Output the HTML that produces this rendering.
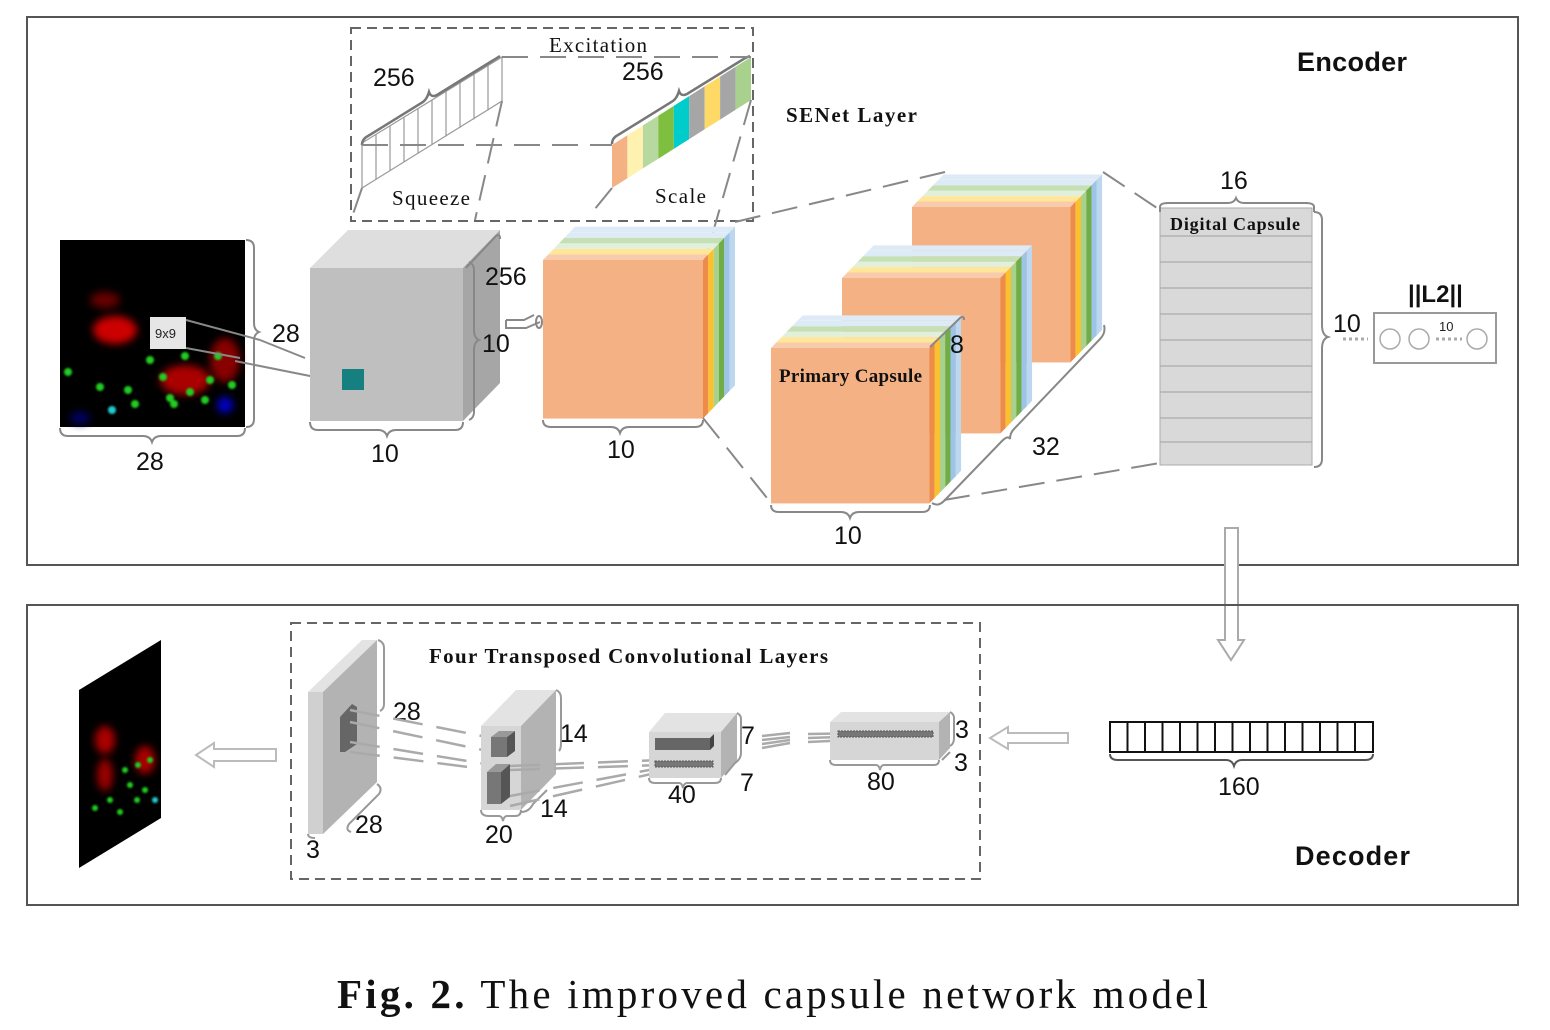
<!DOCTYPE html>
<html><head><meta charset="utf-8"><style>
html,body{margin:0;padding:0;background:#fff}
svg{display:block}
.n{font-family:"Liberation Sans",sans-serif;font-size:25px;fill:#111}
.s{font-family:"Liberation Serif",serif;fill:#111}
</style></head><body>
<svg width="1550" height="1030" viewBox="0 0 1550 1030" xmlns="http://www.w3.org/2000/svg">
<defs>
<g id="cube">
<rect x="0" y="0" width="160" height="157" fill="#f4b183"/>
<polygon points="0,0 160,0 165.3,-5.5 5.3,-5.5" fill="#f8cbad"/>
<polygon points="5.3,-5.5 165.3,-5.5 170.7,-11 10.7,-11" fill="#ffe699"/>
<polygon points="10.7,-11 170.7,-11 176,-16.5 16,-16.5" fill="#e2efda"/>
<polygon points="16,-16.5 176,-16.5 181.3,-22 21.3,-22" fill="#c5e0b4"/>
<polygon points="21.3,-22 181.3,-22 186.7,-27.5 26.7,-27.5" fill="#ddebf7"/>
<polygon points="26.7,-27.5 186.7,-27.5 192,-33 32,-33" fill="#deebf7"/>
<polygon points="160,0 165.3,-5.5 165.3,151.5 160,157" fill="#ed8b4a"/>
<polygon points="165.3,-5.5 170.7,-11 170.7,146 165.3,151.5" fill="#fbc02d"/>
<polygon points="170.7,-11 176,-16.5 176,140.5 170.7,146" fill="#a9d18e"/>
<polygon points="176,-16.5 181.3,-22 181.3,135 176,140.5" fill="#70ad47"/>
<polygon points="181.3,-22 186.7,-27.5 186.7,129.5 181.3,135" fill="#9dc3e6"/>
<polygon points="186.7,-27.5 192,-33 192,124 186.7,129.5" fill="#bdd7ee"/>
</g>
<filter id="bl"><feGaussianBlur stdDeviation="4"/></filter>
<filter id="bl2"><feGaussianBlur stdDeviation="1"/></filter>
</defs>

<!-- encoder box -->
<rect x="27" y="17" width="1491" height="548" fill="none" stroke="#555" stroke-width="2"/>
<text x="1297" y="71" font-family="Liberation Sans,sans-serif" font-weight="bold" font-size="27" fill="#111" textLength="110">Encoder</text>

<!-- SENet -->
<rect x="351" y="28" width="402" height="193" fill="none" stroke="#666" stroke-width="2" stroke-dasharray="10,6"/>
<text x="549" y="52" class="s" font-size="21" textLength="98">Excitation</text>
<text x="786" y="122" class="s" font-size="21" font-weight="bold" textLength="131">SENet Layer</text>
<text x="392" y="205" class="s" font-size="21" textLength="78">Squeeze</text>
<text x="655" y="203" class="s" font-size="21" textLength="51">Scale</text>
<g stroke="#999" stroke-width="1.2" fill="none">
<polygon points="362,143 502,57 502,101 362,188"/>
<line x1="376" y1="134.4" x2="376" y2="179.4"/><line x1="390" y1="125.8" x2="390" y2="170.8"/><line x1="404" y1="117.2" x2="404" y2="162.2"/><line x1="418" y1="108.6" x2="418" y2="153.6"/><line x1="432" y1="100" x2="432" y2="145"/><line x1="446" y1="91.4" x2="446" y2="136.4"/><line x1="460" y1="82.8" x2="460" y2="127.8"/><line x1="474" y1="74.2" x2="474" y2="119.2"/><line x1="488" y1="65.6" x2="488" y2="110.6"/>
</g>
<path d="M362,145 q0,-6 6,-9 l55,-34 q4,-3 6,-10 q2,6 8,3 l55,-34 q5,-3 8,-5" stroke="#777" stroke-width="2.5" fill="none"/>
<g>
<polygon points="612,145 627.4,135.2 627.4,178.2 612,188" fill="#f4b183"/>
<polygon points="627.4,135.2 642.9,125.4 642.9,168.4 627.4,178.2" fill="#fff2b0"/>
<polygon points="642.9,125.4 658.3,115.7 658.3,158.7 642.9,168.4" fill="#b7d9a0"/>
<polygon points="658.3,115.7 673.8,105.9 673.8,148.9 658.3,158.7" fill="#7fbf3f"/>
<polygon points="673.8,105.9 689.2,96.1 689.2,139.1 673.8,148.9" fill="#00cccc"/>
<polygon points="689.2,96.1 704.7,86.3 704.7,129.3 689.2,139.1" fill="#a6a6a6"/>
<polygon points="704.7,86.3 720.1,76.6 720.1,119.6 704.7,129.3" fill="#ffd966"/>
<polygon points="720.1,76.6 735.6,66.8 735.6,109.8 720.1,119.6" fill="#a6a6a6"/>
<polygon points="735.6,66.8 751,57 751,100 735.6,109.8" fill="#a9d18e"/>
</g>
<path d="M612,144 q0,-6 6,-9 l55,-34 q4,-3 6,-10 q2,6 8,3 l55,-34 q5,-3 8,-4" stroke="#777" stroke-width="2.5" fill="none"/>
<text x="373" y="86" class="n">256</text>
<text x="622" y="80" class="n">256</text>
<g stroke="#888" stroke-width="2" stroke-dasharray="26,12" fill="none">
<line x1="502" y1="57" x2="751" y2="57"/>
<line x1="362" y1="145" x2="612" y2="145"/>
<line x1="502" y1="101" x2="475" y2="220"/>
<line x1="362" y1="188" x2="351" y2="220"/>
<line x1="612" y1="188" x2="590" y2="215"/>
<line x1="751" y1="100" x2="705" y2="260"/>
</g>

<!-- input image -->
<rect x="60" y="240" width="185" height="187" fill="#000"/>
<g filter="url(#bl)">
<ellipse cx="115" cy="330" rx="22" ry="14" fill="#c00"/>
<ellipse cx="105" cy="300" rx="15" ry="8" fill="#600"/>
<ellipse cx="185" cy="380" rx="25" ry="15" fill="#a00"/>
<ellipse cx="225" cy="360" rx="15" ry="22" fill="#800"/>
<ellipse cx="225" cy="405" rx="8" ry="8" fill="#00c"/>
<ellipse cx="80" cy="418" rx="10" ry="6" fill="#006"/>
</g>
<g fill="#2c2" filter="url(#bl2)">
<circle cx="68" cy="372" r="4"/><circle cx="100" cy="387" r="4"/><circle cx="128" cy="390" r="4"/><circle cx="163" cy="377" r="4"/><circle cx="185" cy="356" r="4"/><circle cx="205" cy="400" r="4"/><circle cx="170" cy="398" r="4"/><circle cx="190" cy="392" r="4"/><circle cx="135" cy="404" r="4"/><circle cx="232" cy="385" r="4"/><circle cx="218" cy="356" r="4"/><circle cx="174" cy="404" r="4"/><circle cx="210" cy="380" r="4"/><circle cx="112" cy="410" r="4" fill="#2cc"/><circle cx="150" cy="360" r="4"/>
</g>
<rect x="150" y="317" width="36" height="32" fill="#e6e6e6"/>
<text x="155" y="338" font-family="Liberation Sans,sans-serif" font-size="13" fill="#222">9x9</text>
<g stroke="#888" stroke-width="2" fill="none">
<path d="M60,428 q0,8 8,8 h75 q7,0 9,6 q2,-6 9,-6 h76 q8,0 8,-8"/>
<path d="M246,240 q8,0 8,8 v75 q0,7 5,9 q-5,2 -5,9 v78 q0,8 -8,8"/>
<line x1="186" y1="320" x2="260" y2="340"/>
<line x1="186" y1="348" x2="240" y2="358"/>
<line x1="235" y1="361" x2="340" y2="382"/>
<line x1="260" y1="340" x2="305" y2="358"/>
</g>
<text x="136" y="470" class="n">28</text>
<text x="272" y="342" class="n">28</text>

<!-- gray conv cube -->
<polygon points="310,268 348,230 500,230 463,268" fill="#dedede"/>
<rect x="310" y="268" width="153" height="153" fill="#bfbfbf"/>
<polygon points="463,268 500,230 500,383 463,421" fill="#a6a6a6"/>
<rect x="342" y="369" width="22" height="21" fill="#168080"/>
<g stroke="#888" stroke-width="2" fill="none">
<path d="M310,422 q0,8 8,8 h60 q7,0 9,6 q2,-6 9,-6 h59 q8,0 8,-8"/>
<path d="M466,268 l30,-32 q4,-3 4,3 M466,268 q4,-6 0,0"/>
<path d="M469,420 q5,-2 5,-8 v-62 q0,-8 5,-10 q-5,-2 -5,-10 v-60 q0,-6 -5,-8"/>
<path d="M506,320 h18 l10,-5 M506,320 v8 h20 l14,-6"/>
<ellipse cx="539" cy="322" rx="3" ry="6"/>
</g>
<text x="371" y="462" class="n">10</text>
<text x="485" y="285" class="n">256</text>
<text x="482" y="352" class="n">10</text>

<!-- main colored cube -->
<use href="#cube" transform="translate(543,260) scale(1,1.01)"/>
<path d="M543,420 q0,7 8,7 h60 q7,0 9,6 q2,-6 9,-6 h66 q8,0 8,-7" stroke="#888" stroke-width="2" fill="none"/>
<text x="607" y="458" class="n">10</text>

<!-- primary capsules -->
<use href="#cube" transform="translate(912,207) scale(0.99,0.99)"/>
<use href="#cube" transform="translate(842,278) scale(0.99,0.99)"/>
<use href="#cube" transform="translate(771,348) scale(0.99,0.99)"/>
<text x="779" y="382" class="s" font-size="19" font-weight="bold" textLength="143">Primary Capsule</text>
<text x="950" y="353" class="n">8</text>
<text x="1032" y="455" class="n">32</text>
<text x="834" y="544" class="n">10</text>
<g stroke="#888" stroke-width="2" fill="none">
<path d="M771,505 q0,7 8,7 h62 q7,0 9,6 q2,-6 9,-6 h63 q8,0 8,-7"/>
<path d="M932,503 q6,4 12,-2 l58,-60 q6,-6 8,-2 q0,-6 4,-10 l86,-90 q6,-6 4,-14"/>
<path d="M930,347 l30,-29 q4,-3 4,2"/>
</g>
<g stroke="#888" stroke-width="2" stroke-dasharray="26,12" fill="none">
<line x1="703" y1="418" x2="771" y2="503"/>
<line x1="735" y1="222" x2="945" y2="172"/>
<line x1="1103" y1="172" x2="1160" y2="210"/>
<line x1="944" y1="500" x2="1160" y2="463"/>
</g>

<!-- digital capsule -->
<rect x="1160" y="208" width="152" height="257" fill="#d9d9d9" stroke="#aaa"/>
<g stroke="#aaa" stroke-width="1.2">
<line x1="1160" y1="236" x2="1312" y2="236"/><line x1="1160" y1="262" x2="1312" y2="262"/><line x1="1160" y1="288" x2="1312" y2="288"/><line x1="1160" y1="314" x2="1312" y2="314"/><line x1="1160" y1="340" x2="1312" y2="340"/><line x1="1160" y1="366" x2="1312" y2="366"/><line x1="1160" y1="392" x2="1312" y2="392"/><line x1="1160" y1="418" x2="1312" y2="418"/><line x1="1160" y1="442" x2="1312" y2="442"/>
</g>
<text x="1170" y="230" class="s" font-size="18" font-weight="bold" textLength="130">Digital Capsule</text>
<g stroke="#888" stroke-width="2" fill="none">
<path d="M1160,212 v-5 q0,-4 8,-4 h60 q6,0 8,-5 q2,5 8,5 h62 q8,0 8,4 v5"/>
<path d="M1314,212 q8,0 8,8 v105 q0,10 6,12 q-6,2 -6,12 v110 q0,8 -8,8"/>
</g>
<text x="1220" y="189" class="n">16</text>
<text x="1333" y="332" class="n">10</text>
<line x1="1343" y1="339" x2="1368" y2="339" stroke="#aaa" stroke-width="3" stroke-dasharray="3,3"/>
<rect x="1374" y="313" width="122" height="50" fill="#fff" stroke="#999" stroke-width="2"/>
<g fill="none" stroke="#aaa" stroke-width="1.5"><circle cx="1390" cy="339" r="10"/><circle cx="1419" cy="339" r="10"/><circle cx="1477" cy="339" r="10"/></g>
<line x1="1436" y1="339" x2="1462" y2="339" stroke="#aaa" stroke-width="3" stroke-dasharray="3,3"/>
<text x="1439" y="331" font-family="Liberation Sans,sans-serif" font-size="13" fill="#222">10</text>
<text x="1408" y="302" font-family="Liberation Sans,sans-serif" font-weight="bold" font-size="24" fill="#111">||L2||</text>

<!-- down arrow -->
<polygon points="1225,528 1238,528 1238,640 1244,640 1231,660 1218,640 1225,640" fill="#fff" stroke="#aaa" stroke-width="2"/>

<!-- decoder box -->
<rect x="27" y="605" width="1491" height="300" fill="none" stroke="#555" stroke-width="2"/>
<text x="1295" y="865" font-family="Liberation Sans,sans-serif" font-weight="bold" font-size="27" fill="#111" textLength="115">Decoder</text>
<rect x="291" y="623" width="689" height="256" fill="none" stroke="#666" stroke-width="2" stroke-dasharray="10,6"/>
<text x="429" y="663" class="s" font-size="21" font-weight="bold" textLength="399">Four Transposed Convolutional Layers</text>

<!-- output image -->
<polygon points="79,690 161,640 161,818 79,868" fill="#000"/>
<g filter="url(#bl)"><ellipse cx="105" cy="740" rx="10" ry="14" fill="#a00"/><ellipse cx="145" cy="760" rx="10" ry="14" fill="#a00"/><ellipse cx="105" cy="775" rx="8" ry="16" fill="#900"/></g>
<g fill="#2c2" filter="url(#bl2)"><circle cx="125" cy="770" r="3"/><circle cx="138" cy="765" r="3"/><circle cx="150" cy="760" r="3"/><circle cx="130" cy="785" r="3"/><circle cx="145" cy="790" r="3"/><circle cx="110" cy="800" r="3"/><circle cx="120" cy="812" r="3"/><circle cx="95" cy="808" r="3"/><circle cx="155" cy="800" r="3" fill="#2cc"/><circle cx="137" cy="800" r="3"/></g>
<polygon points="276,749 214,749 214,743 196,755 214,767 214,761 276,761" fill="#fff" stroke="#bbb" stroke-width="2"/>

<!-- layer 1 -->
<polygon points="308,692 362,640 377,640 323,692" fill="#e3e3e3"/>
<rect x="308" y="692" width="15" height="142" fill="#d0d0d0"/>
<polygon points="323,692 377,640 377,782 323,834" fill="#b3b3b3"/>
<polygon points="340,717 352,704 357,707 357,744 345,752 340,752" fill="#666"/>
<g stroke="#999" stroke-width="2" fill="none">
<path d="M378,640 q6,2 6,8 v56 q0,5 -4,7"/>
<path d="M377,784 q6,4 2,10 l-30,30 q-4,6 2,8"/>
<path d="M308,834 q0,4 7,4"/>
</g>
<text x="393" y="720" class="n">28</text>
<text x="355" y="833" class="n">28</text>
<text x="306" y="858" class="n">3</text>
<g stroke="#aaa" stroke-width="2.5" fill="none" stroke-dasharray="30,14">
<line x1="350" y1="710" x2="492" y2="738"/>
<line x1="350" y1="722" x2="492" y2="752"/>
<line x1="350" y1="742" x2="492" y2="765"/>
<line x1="350" y1="752" x2="492" y2="770"/>
</g>

<!-- layer 2 -->
<polygon points="481,726 516,690 556,690 521,726" fill="#e3e3e3"/>
<rect x="481" y="726" width="40" height="84" fill="#d6d6d6"/>
<polygon points="521,726 556,690 556,774 521,810" fill="#b3b3b3"/>
<rect x="491" y="737" width="16" height="20" fill="#777"/><polygon points="507,737 515,731 515,751 507,757" fill="#555"/><polygon points="491,737 499,731 515,731 507,737" fill="#999"/>
<rect x="487" y="772" width="14" height="32" fill="#777"/><polygon points="501,772 510,764 510,797 501,804" fill="#555"/><polygon points="487,772 496,764 510,764 501,772" fill="#999"/>
<g stroke="#999" stroke-width="2" fill="none">
<path d="M481,810 q0,6 8,6 h10 q3,0 4,5 q1,-5 4,-5 h8 q6,0 6,-6"/>
<path d="M556,690 q5,2 5,8 v45 q0,6 -2,8"/>
<path d="M521,812 q8,0 12,-8 l14,-14"/>
</g>
<text x="560" y="742" class="n">14</text>
<text x="540" y="817" class="n">14</text>
<text x="485" y="843" class="n">20</text>
<g stroke="#aaa" stroke-width="2.5" fill="none" stroke-dasharray="30,14">
<line x1="510" y1="766" x2="660" y2="760"/>
<line x1="510" y1="770" x2="660" y2="765"/>
<line x1="510" y1="796" x2="660" y2="768"/>
<line x1="510" y1="806" x2="660" y2="772"/>
</g>

<!-- layer 3 -->
<polygon points="649,732 665,713 737,713 721,732" fill="#e3e3e3"/>
<rect x="649" y="732" width="72" height="46" fill="#d6d6d6"/>
<polygon points="721,732 737,713 737,760 721,778" fill="#b3b3b3"/>
<rect x="655" y="738" width="55" height="12" fill="#666"/><polygon points="710,738 714,734 714,746 710,750" fill="#444"/>
<rect x="655" y="761" width="58" height="6" fill="#777" stroke="#555" stroke-dasharray="2,1"/>
<g stroke="#999" stroke-width="2" fill="none">
<path d="M649,778 q0,5 6,5 h24 q3,0 4,5 q1,-5 4,-5 h28 q6,0 6,-5"/>
<path d="M737,713 q4,2 4,6 v34 q0,6 -6,10 l-10,12"/>
</g>
<text x="741" y="744" class="n">7</text>
<text x="740" y="791" class="n">7</text>
<text x="668" y="803" class="n">40</text>
<g stroke="#aaa" stroke-width="2.5" fill="none">
<line x1="762" y1="736" x2="790" y2="733"/><line x1="762" y1="740" x2="790" y2="737"/><line x1="762" y1="744" x2="790" y2="740"/><line x1="762" y1="748" x2="790" y2="743"/>
<line x1="808" y1="734" x2="935" y2="732"/><line x1="808" y1="738" x2="935" y2="734"/><line x1="808" y1="742" x2="935" y2="736"/>
</g>

<!-- layer 4 -->
<polygon points="830,722 841,712 950,712 939,722" fill="#e3e3e3"/>
<rect x="830" y="722" width="109" height="38" fill="#d6d6d6"/>
<polygon points="939,722 950,712 950,748 939,760" fill="#b3b3b3"/>
<rect x="838" y="731" width="95" height="6" fill="#777" stroke="#555" stroke-dasharray="2,1"/>
<g stroke="#999" stroke-width="2" fill="none">
<path d="M830,760 q0,5 6,5 h40 q3,0 4,5 q1,-5 4,-5 h50 q5,0 5,-5"/>
<path d="M950,712 q4,2 4,6 v20 q0,6 -4,8 M942,760 l8,-8"/>
</g>
<text x="955" y="738" class="n">3</text>
<text x="954" y="771" class="n">3</text>
<text x="867" y="790" class="n">80</text>

<polygon points="1068,733 1008,733 1008,727 990,738 1008,749 1008,743 1068,743" fill="#fff" stroke="#bbb" stroke-width="2"/>

<!-- 160 vector -->
<rect x="1110" y="722" width="263" height="30" fill="#fff" stroke="#111" stroke-width="2"/>
<g stroke="#111" stroke-width="2">
<line x1="1127.5" y1="722" x2="1127.5" y2="752"/><line x1="1145" y1="722" x2="1145" y2="752"/><line x1="1162.5" y1="722" x2="1162.5" y2="752"/><line x1="1180" y1="722" x2="1180" y2="752"/><line x1="1197.5" y1="722" x2="1197.5" y2="752"/><line x1="1215" y1="722" x2="1215" y2="752"/><line x1="1232.5" y1="722" x2="1232.5" y2="752"/><line x1="1250" y1="722" x2="1250" y2="752"/><line x1="1267.5" y1="722" x2="1267.5" y2="752"/><line x1="1285" y1="722" x2="1285" y2="752"/><line x1="1302.5" y1="722" x2="1302.5" y2="752"/><line x1="1320" y1="722" x2="1320" y2="752"/><line x1="1337.5" y1="722" x2="1337.5" y2="752"/><line x1="1355" y1="722" x2="1355" y2="752"/>
</g>
<path d="M1110,754 q0,6 8,6 h108 q6,0 8,6 q2,-6 8,-6 h123 q8,0 8,-6" stroke="#555" stroke-width="2" fill="none"/>
<text x="1218" y="795" class="n">160</text>

<!-- caption -->
<text x="337" y="1008" class="s" font-size="41" textLength="871" lengthAdjust="spacing"><tspan font-weight="bold">Fig. 2.</tspan> The improved capsule network model</text>
</svg>
</body></html>
